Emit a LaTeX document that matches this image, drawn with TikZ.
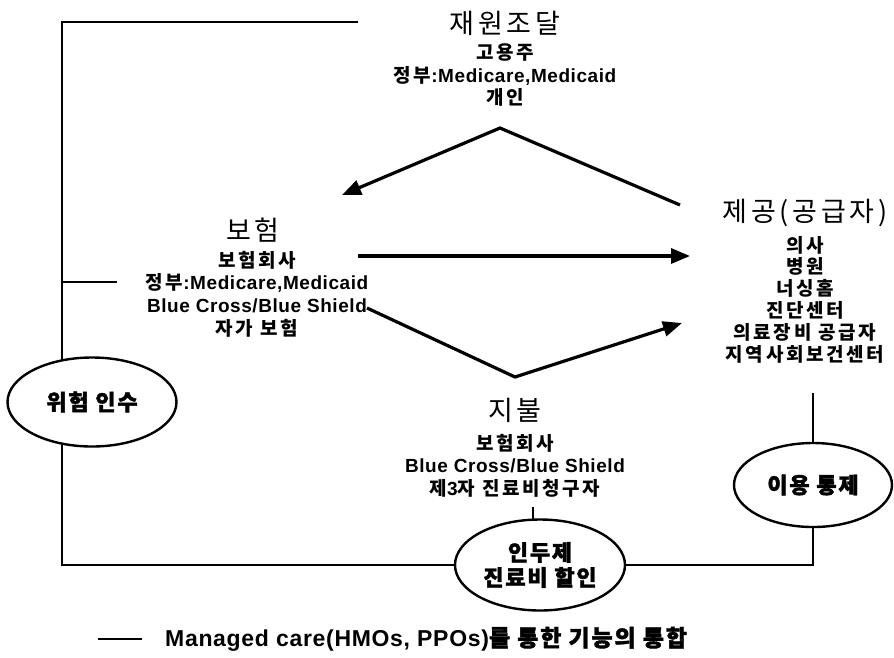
\documentclass[tikz,border=0pt]{standalone}
\usepackage{fontspec}
\setmainfont{Noto Sans CJK KR}[LetterSpace=14]
\newfontfamily\krheavy{Noto Sans CJK KR}[LetterSpace=8, BoldFeatures={FakeBold=1.6}]
\newfontfamily\latfont{Liberation Sans}[LetterSpace=3]
\newcommand\lt[1]{{\latfont\bfseries #1}}
\usetikzlibrary{arrows.meta,shapes.geometric,backgrounds}

\begin{document}
\begin{tikzpicture}[x=1pt,y=-1pt,
  ttl/.style={font=\fontsize{27}{30}\selectfont, inner sep=0pt},
  sub/.style={font=\fontsize{19}{#1}\selectfont\bfseries, align=center, inner sep=0pt},
  sub/.default=22.5,
  oval/.style={ellipse, draw, line width=2.4pt, fill=white, inner sep=0pt, align=center, font=\fontsize{22}{25}\selectfont\krheavy\bfseries},
  frame/.style={line width=1.8pt},
  flow/.style={line width=3.2pt, -{Triangle[length=19pt,width=15pt]}}
]
\useasboundingbox (0,0) rectangle (894,657);

% text blocks
\node[ttl] (fin) at (505,23) {재원조달};
\node[sub] (finsub) at (505,75) {고용주\\정부\lt{:Medicare,Medicaid}\\개인};
\node[ttl] (ins) at (253,230) {보험};
\node[sub=22.7] (inssub) at (257,294) {보험회사\\정부\lt{:Medicare,Medicaid}\\\lt{Blue Cross/Blue Shield}\\자가 보험};
\node[ttl] (prov) at (805,213) {제공(공급자)};
\node[sub=21.8] (provsub) at (805,299.5) {의사\\병원\\너싱홈\\진단센터\\의료장비 공급자\\지역사회보건센터};
\node[ttl] (pay) at (515,410) {지불};
\node[sub] (paysub) at (515,465.5) {보험회사\\\lt{Blue Cross/Blue Shield}\\제\lt{3}자 진료비청구자};

% ovals
\node[oval, minimum width=169pt, minimum height=89pt] (risk) at (92,402) {위험 인수};
\node[oval, minimum width=170pt, minimum height=91pt] (cap) at (540,565) {인두제\\진료비 할인};
\node[oval, minimum width=158pt, minimum height=84pt] (util) at (813,485) {이용 통제};

% frame coordinates
\coordinate (tr) at (358,22);
\coordinate (tl) at (62,22);
\coordinate (bl) at (62,565);
\coordinate (br) at (813,565);
\coordinate (tk) at (117,282);
\coordinate (utop) at (813,393);
\coordinate (ctop) at (533,507);

\begin{scope}[on background layer]
\draw[frame] (tr) -- (tl) -- (bl) -- (cap.center);
\draw[frame] (cap.center) -- (br) -- (util.center);
\draw[frame] (util.center) -- (utop);
\draw[frame] (ctop) -- (ctop |- cap.center);
\draw[frame] (tk -| tl) -- (tk);
\end{scope}

% flow arrows
\coordinate (a1s) at (680,205);
\coordinate (a1m) at (500,128);
\coordinate (a1e) at (342,195);
\draw[flow] (a1s) -- (a1m) -- (a1e);
\coordinate (a2s) at (358,256);
\coordinate (a2e) at (690,256);
\draw[flow] (a2s) -- (a2e);
\coordinate (a3s) at (367,308);
\coordinate (a3m) at (515,377);
\coordinate (a3e) at (682,323);
\draw[flow] (a3s) -- (a3m) -- (a3e);

% legend
\coordinate (lg1) at (98,639);
\coordinate (lg2) at (142,639);
\draw[frame] (lg1) -- (lg2);
\node[anchor=west, inner sep=0pt, font=\fontsize{23}{25}\selectfont\krheavy\bfseries] (leg) at (165,639) {\lt{Managed care(HMOs, PPOs)}를 통한 기능의 통합};
\end{tikzpicture}
\end{document}
